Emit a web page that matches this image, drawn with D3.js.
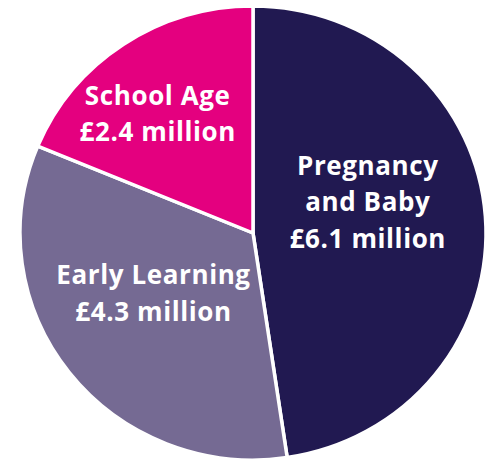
<!doctype HTML>
<html>
<head>
    <script src="https://d3js.org/d3.v7.min.js"></script>
    <style>
        body { margin: 0; background: #fff; }
    </style>
</head>
<body>
<script>

    // chart data
    var categories = ["Pregnancy and Baby", "Early Learning", "School Age"];
    var values = [6.1, 4.3, 2.4];
    var labelLines = [["Pregnancy", "and Baby", "£6.1 million"],
                      ["Early Learning", "£4.3 million"],
                      ["School Age", "£2.4 million"]];
    var colors = ["#211951", "#756a93", "#e4007f"];

    var width = 491, height = 460;
    var cx = 253, cy = 233, rx = 233, ry = 227;

    var svg = d3.select("body")
        .append("svg")
        .attr("width", width)
        .attr("height", height);

    var data = categories.map(function(c, i) {
        return {name: c, value: values[i], lines: labelLines[i], color: colors[i]};
    });

    var pie = d3.pie()
        .sort(null)
        .value(function(d) { return d.value; });

    var arc = d3.arc()
        .innerRadius(0)
        .outerRadius(rx);

    // pie is slightly squashed vertically in the original
    var g = svg.append("g")
        .attr("transform", "translate(" + cx + "," + cy + ")");

    g.append("g")
        .attr("transform", "scale(1," + (ry / rx) + ")")
        .selectAll("path")
        .data(pie(data))
        .enter().append("path")
        .attr("d", arc)
        .attr("fill", function(d) { return d.data.color; })
        .attr("stroke", "#fff")
        .attr("stroke-width", 3.5)
        .attr("stroke-linejoin", "miter");

    var labelArc = d3.arc()
        .innerRadius(rx * 0.52)
        .outerRadius(rx * 0.52);

    // nudges so the text blocks sit where they do in the source
    var nudge = [[-6, -22], [-4, -12], [-28, -21]];
    var lineH = 36.5;

    var labels = g.selectAll(".lbl")
        .data(pie(data))
        .enter().append("text")
        .attr("class", "lbl")
        .attr("text-anchor", "middle")
        .attr("fill", "#fff")
        .attr("font-family", "'Open Sans', sans-serif")
        .attr("font-weight", "bold")
        .attr("font-size", "26px")
        .attr("letter-spacing", "0.6px")
        .attr("transform", function(d, i) {
            var c = labelArc.centroid(d);
            return "translate(" + (c[0] + nudge[i][0]) + "," + (c[1] * ry / rx + nudge[i][1]) + ")";
        });

    labels.selectAll("tspan")
        .data(function(d) { return d.data.lines; })
        .enter().append("tspan")
        .attr("x", 0)
        .attr("y", function(d, i, nodes) {
            var n = nodes.length;
            return (i - (n - 1) / 2) * lineH + 9;
        })
        .text(function(d) { return d; });

</script>
</body>
</html>
